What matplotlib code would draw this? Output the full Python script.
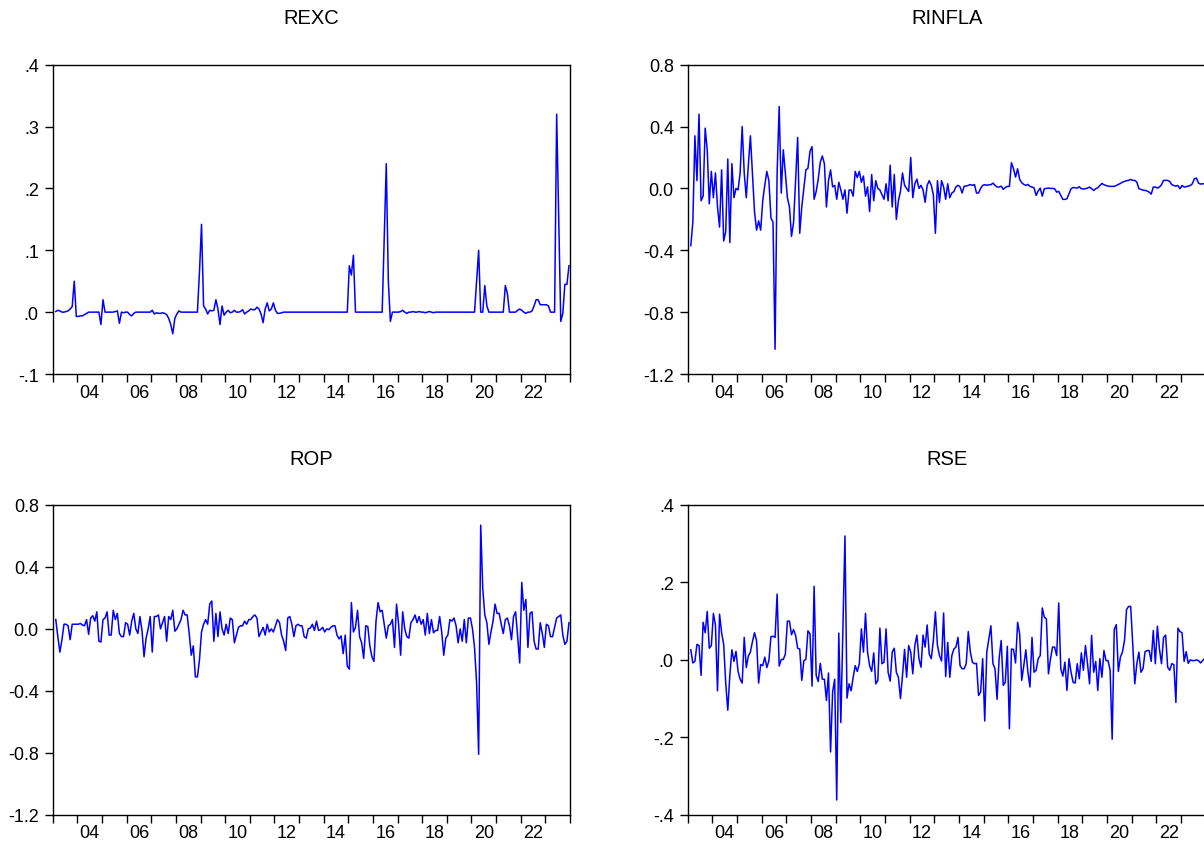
import numpy as np
import pandas as pd
import matplotlib
matplotlib.use('Agg')
import matplotlib.pyplot as plt

plt.rcParams['font.family'] = ['Liberation Sans', 'DejaVu Sans']

# monthly observations, 2003M02 - 2023M12 (one line per year)
months = pd.period_range('2003-02', '2023-12', freq='M')

rexc = [
    0.001, 0.003, 0.002, 0.0, 0.0, 0.001, 0.002, 0.005, 0.009, 0.05, -0.007,
    -0.007, -0.006, -0.006, -0.004, -0.002, 0.0, 0.0, 0.0, 0.0, 0.0, 0.0, -0.02,
    0.02, 0.0, 0.0, 0.0, 0.0, 0.0, 0.001, 0.002, -0.018, 0.0, -0.001, 0.0,
    0.0, -0.004, -0.006, -0.002, 0.0, 0.0, 0.0, 0.0, 0.0, 0.0, 0.0, 0.0,
    0.003, -0.003, -0.001, -0.002, -0.002, -0.001, -0.002, -0.004, -0.01, -0.02, -0.035, -0.01,
    -0.003, 0.002, 0.0, 0.0, 0.0, 0.0, 0.0, 0.0, 0.0, 0.0, 0.0, 0.065,
    0.142, 0.01, 0.005, -0.003, 0.003, 0.002, 0.003, 0.02, 0.005, -0.02, 0.01, -0.005,
    0.0, 0.003, -0.001, 0.0, 0.003, 0.0, 0.0, 0.001, 0.004, -0.003, 0.0, 0.002,
    0.005, 0.004, 0.004, 0.008, 0.005, -0.003, -0.017, 0.005, 0.015, 0.002, 0.005, 0.015,
    0.003, -0.002, -0.002, -0.001, 0.0, 0.0, 0.0, 0.0, 0.0, 0.0, 0.0, 0.0,
    0.0, 0.0, 0.0, 0.0, 0.0, 0.0, 0.0, 0.0, 0.0, 0.0, 0.0, 0.0,
    0.0, 0.0, 0.0, 0.0, 0.0, 0.0, 0.0, 0.0, 0.0, 0.0, 0.0, 0.0,
    0.075, 0.06, 0.092, 0.0, 0.0, 0.0, 0.0, 0.0, 0.0, 0.0, 0.0, 0.0,
    0.0, 0.0, 0.0, 0.0, 0.0, 0.12, 0.24, 0.05, -0.015, 0.0, 0.0, 0.0,
    0.0, 0.001, 0.003, 0.0, -0.002, 0.0, 0.0, 0.001, 0.0, 0.0, 0.001, 0.0,
    0.0, -0.001, 0.0, 0.001, 0.0, -0.001, 0.0, 0.0, 0.0, 0.0, 0.0, 0.0,
    0.0, 0.0, 0.0, 0.0, 0.0, 0.0, 0.0, 0.0, 0.0, 0.0, 0.0, 0.0,
    0.0, 0.0, 0.05, 0.1, 0.0, 0.0, 0.043, 0.01, 0.0, 0.0, 0.0, 0.0,
    0.0, 0.0, 0.0, 0.0, 0.043, 0.03, 0.0, 0.0, 0.0, 0.0, 0.003, 0.005,
    0.003, 0.0, -0.002, 0.0, 0.0, 0.002, 0.01, 0.02, 0.02, 0.012, 0.012, 0.012,
    0.012, 0.01, 0.0, 0.0, 0.0, 0.32, 0.15, -0.015, -0.002, 0.045, 0.045, 0.075,
]

rinfla = [
    -0.37, -0.22, 0.34, 0.05, 0.48, -0.08, -0.05, 0.39, 0.25, -0.10, 0.11,
    -0.06, 0.10, -0.12, -0.25, 0.12, -0.34, -0.28, 0.19, -0.35, 0.16, -0.06, 0.0,
    -0.01, 0.10, 0.40, 0.10, -0.06, 0.15, 0.34, 0.10, -0.15, -0.27, -0.21, -0.27,
    -0.08, 0.02, 0.11, 0.05, -0.19, -0.22, -1.04, 0.10, 0.53, -0.03, 0.25, 0.10,
    -0.06, -0.12, -0.31, -0.22, 0.05, 0.33, -0.29, -0.12, 0.0, 0.12, 0.13, 0.24,
    0.27, -0.07, -0.02, 0.06, 0.17, 0.21, 0.16, -0.12, 0.05, 0.12, 0.01, 0.02,
    -0.07, 0.04, -0.01, -0.07, -0.01, -0.16, -0.01, -0.01, -0.05, 0.11, 0.07, 0.11,
    0.04, 0.08, -0.05, 0.01, -0.15, 0.09, -0.08, 0.05, 0.0, -0.01, -0.04, -0.07,
    0.03, -0.08, 0.15, -0.12, 0.09, -0.20, -0.08, -0.02, 0.10, 0.02, 0.0, -0.02,
    0.20, -0.06, 0.03, 0.06, 0.0, 0.02, -0.01, -0.09, 0.02, 0.05, 0.02, -0.04,
    -0.29, 0.05, -0.09, 0.05, 0.01, -0.07, 0.03, -0.06, -0.03, -0.02, 0.01, 0.02,
    0.01, -0.03, 0.015, 0.015, 0.02, 0.025, 0.02, 0.025, -0.03, -0.03, 0.0, 0.02,
    0.024, 0.02, 0.024, 0.024, 0.034, 0.02, 0.009, 0.009, 0.015, -0.006, 0.006, 0.013,
    0.013, 0.166, 0.127, 0.073, 0.127, 0.058, 0.037, 0.026, 0.019, 0.026, 0.013, 0.009,
    0.004, -0.045, -0.017, 0.002, -0.05, -0.002, 0.0, 0.002, 0.0, 0.0, -0.002, -0.024,
    -0.019, -0.045, -0.071, -0.071, -0.067, -0.034, -0.002, 0.006, 0.004, 0.002, 0.011, -0.002,
    -0.004, -0.002, 0.002, 0.009, -0.002, -0.013, -0.002, 0.004, 0.019, 0.032, 0.024, 0.019,
    0.015, 0.013, 0.013, 0.013, 0.019, 0.026, 0.032, 0.041, 0.045, 0.05, 0.052, 0.058,
    0.052, 0.052, 0.041, -0.002, -0.006, -0.011, -0.013, -0.017, -0.024, -0.037, 0.009, 0.009,
    0.002, 0.009, 0.024, 0.052, 0.052, 0.052, 0.045, 0.024, 0.019, 0.015, 0.019, -0.002,
    0.019, 0.009, 0.011, 0.015, 0.019, 0.03, 0.063, 0.067, 0.034, 0.028, 0.03, 0.03,
]

rop = [
    0.06, -0.05, -0.15, -0.07, 0.03, 0.03, 0.02, -0.07, 0.03, 0.03, 0.03,
    0.03, 0.035, 0.025, 0.02, 0.06, -0.035, 0.07, 0.085, 0.05, 0.11, -0.08, -0.085,
    0.06, 0.07, 0.11, -0.04, -0.04, 0.12, 0.06, 0.10, -0.03, -0.05, -0.05, 0.04,
    0.03, -0.04, 0.05, 0.10, 0.0, -0.03, 0.08, -0.01, -0.18, -0.06, 0.0, 0.08,
    -0.15, 0.08, 0.08, 0.09, 0.0, 0.04, 0.08, -0.08, 0.08, 0.06, 0.12, -0.015,
    0.0, 0.03, 0.06, 0.12, 0.09, 0.09, -0.03, -0.17, -0.11, -0.31, -0.31, -0.20,
    -0.02, 0.03, 0.06, 0.03, 0.16, 0.18, -0.08, 0.10, -0.05, 0.11, 0.0, -0.04,
    0.03, -0.03, 0.07, 0.06, -0.09, -0.04, 0.01, 0.02, 0.02, 0.05, 0.03, 0.06,
    0.06, 0.08, 0.09, 0.07, -0.05, -0.02, 0.01, -0.04, 0.03, -0.02, 0.0, -0.02,
    0.02, 0.06, 0.04, -0.04, -0.08, -0.14, 0.07, 0.08, 0.03, -0.05, 0.02, 0.03,
    0.02, 0.02, -0.05, -0.06, 0.0, 0.005, 0.03, -0.01, 0.05, -0.01, -0.005, 0.01,
    -0.02, 0.0, -0.005, 0.01, 0.02, 0.02, -0.04, -0.065, -0.045, -0.16, -0.04, -0.24,
    -0.26, 0.17, -0.02, 0.01, 0.12, -0.05, -0.09, -0.19, 0.02, 0.015, -0.11, -0.18,
    -0.21, 0.05, 0.17, 0.11, 0.12, 0.03, -0.06, 0.02, 0.03, 0.06, -0.12, 0.16,
    0.03, -0.17, 0.11, 0.0, -0.05, -0.06, 0.04, 0.06, 0.09, 0.04, 0.08, 0.03,
    0.06, -0.04, 0.10, -0.03, 0.06, -0.025, -0.01, -0.01, 0.08, -0.02, -0.17, -0.06,
    -0.04, 0.06, 0.05, 0.07, 0.02, -0.09, 0.0, -0.08, 0.06, -0.09, 0.07, 0.07,
    0.0, -0.12, -0.35, -0.81, 0.67, 0.26, 0.09, 0.04, -0.10, -0.02, 0.05, 0.16,
    0.10, 0.10, 0.03, -0.03, 0.06, 0.07, 0.02, -0.07, 0.08, 0.11, -0.05, -0.22,
    0.30, 0.12, 0.19, -0.12, 0.10, 0.11, -0.08, -0.13, -0.13, 0.04, -0.03, -0.12,
    0.03, 0.02, -0.05, -0.05, 0.01, 0.07, 0.08, 0.09, -0.04, -0.10, -0.08, 0.04,
]

rse = [
    0.026, -0.008, -0.004, 0.04, 0.037, -0.04, 0.097, 0.07, 0.125, 0.03, 0.037,
    0.12, 0.09, -0.08, 0.118, 0.07, 0.04, -0.06, -0.13, -0.04, 0.026, -0.004, 0.022,
    -0.03, -0.05, -0.06, 0.058, -0.02, 0.01, 0.02, 0.047, 0.07, 0.05, -0.06, -0.012,
    -0.015, 0.007, -0.02, -0.002, 0.06, 0.061, 0.058, 0.17, -0.016, 0.001, 0.001, 0.015,
    0.10, 0.10, 0.065, 0.078, 0.063, 0.03, 0.028, -0.053, -0.002, 0.001, 0.075, 0.067,
    -0.068, 0.19, -0.04, -0.056, -0.009, -0.05, -0.05, -0.105, -0.034, -0.238, -0.083, -0.05,
    -0.362, 0.069, -0.162, 0.075, 0.32, -0.099, -0.062, -0.08, -0.045, -0.015, -0.03, -0.01,
    0.08, 0.02, 0.12, 0.02, -0.015, -0.03, 0.018, -0.062, -0.053, 0.082, -0.01, -0.006,
    0.08, -0.032, -0.055, 0.02, 0.03, -0.032, -0.045, -0.10, -0.04, 0.027, -0.045, 0.037,
    0.02, -0.036, 0.037, 0.064, 0.003, -0.019, 0.064, 0.033, 0.09, 0.015, 0.003, 0.05,
    0.124, 0.037, 0.011, -0.003, 0.121, -0.043, 0.045, -0.045, 0.011, 0.028, 0.033, 0.058,
    -0.015, -0.023, -0.023, -0.01, 0.073, 0.02, -0.006, -0.01, -0.009, -0.092, -0.083, 0.003,
    -0.158, 0.02, 0.054, 0.088, -0.01, -0.023, -0.102, 0.003, 0.05, -0.066, -0.058, 0.035,
    -0.178, 0.028, 0.027, -0.008, 0.097, 0.067, -0.053, -0.015, 0.026, -0.032, -0.07, 0.058,
    -0.032, -0.027, 0.003, 0.011, 0.134, 0.11, 0.106, -0.036, 0.003, 0.033, 0.033, 0.011,
    0.147, -0.023, -0.042, -0.006, -0.079, 0.003, -0.032, -0.058, -0.06, -0.01, -0.049, 0.018,
    -0.027, 0.037, -0.01, -0.062, 0.063, -0.032, -0.004, -0.079, 0.003, -0.045, 0.024, -0.002,
    -0.002, -0.027, -0.205, 0.078, 0.091, -0.03, 0.007, 0.02, 0.05, 0.13, 0.138, 0.138,
    0.041, -0.062, -0.01, 0.02, -0.032, -0.023, 0.021, 0.024, 0.024, -0.004, 0.076, -0.01,
    0.087, 0.028, -0.01, 0.058, 0.064, -0.019, -0.027, -0.01, -0.012, -0.11, 0.082, 0.073,
    0.07, -0.004, 0.021, -0.009, 0.0, -0.002, -0.002, 0.0, -0.002, -0.008, -0.002, 0.004,
]

titles = ['REXC', 'RINFLA', 'ROP', 'RSE']
yticks_1 = [-0.1, 0.0, 0.1, 0.2, 0.3, 0.4]
ylabels_1 = ['-.1', '.0', '.1', '.2', '.3', '.4']
yticks_2 = [-1.2, -0.8, -0.4, 0.0, 0.4, 0.8]
ylabels_2 = ['-1.2', '-0.8', '-0.4', '0.0', '0.4', '0.8']
yticks_4 = [-0.4, -0.2, 0.0, 0.2, 0.4]
ylabels_4 = ['-.4', '-.2', '.0', '.2', '.4']
xlabels = ['04', '06', '08', '10', '12', '14', '16', '18', '20', '22']

# decimal year at the middle of each month
t = np.asarray(months.year + (months.month - 0.5) / 12.0, dtype=float)

fig = plt.figure(figsize=(12.04, 8.45), dpi=100)

W, H = 1204.0, 845.0


def panel(x0, x1, ytop, ybot, y, title, yticks, ylabels, title_y):
    ax = fig.add_axes([x0 / W, 1 - ybot / H, (x1 - x0) / W, (ybot - ytop) / H])
    ax.plot(t, y, color='#0000ff', lw=1.1)
    ax.set_xlim(2003, 2024)
    ax.set_ylim(yticks[0], yticks[-1])
    ax.set_yticks(yticks)
    ax.set_yticklabels(ylabels)
    ax.set_xticks(np.arange(2003, 2025))
    ax.set_xticklabels([])
    ax.set_xticks(np.arange(2004, 2023, 2) + 0.5, minor=True)
    ax.set_xticklabels(xlabels, minor=True)
    ax.tick_params(axis='x', which='major', length=6, width=1.0, direction='out')
    ax.tick_params(axis='x', which='minor', length=0, pad=7, labelsize=13)
    ax.tick_params(axis='y', length=6, width=1.0, pad=4, labelsize=13)
    for s in ax.spines.values():
        s.set_linewidth(1.0)
    fig.text((x0 + x1) / 2 / W, 1 - title_y / H, title,
             ha='center', va='center', fontsize=14.5)
    return ax


panel(52.7, 570.0, 65.7, 375.0, rexc, titles[0], yticks_1, ylabels_1, 18)
panel(687.7, 1205.7, 65.7, 375.0, rinfla, titles[1], yticks_2, ylabels_2, 18)
panel(52.7, 570.0, 506.0, 815.7, rop, titles[2], yticks_2, ylabels_2, 460)
panel(687.7, 1205.7, 506.0, 815.7, rse, titles[3], yticks_4, ylabels_4, 460)

fig.savefig('out.png', dpi=100)
